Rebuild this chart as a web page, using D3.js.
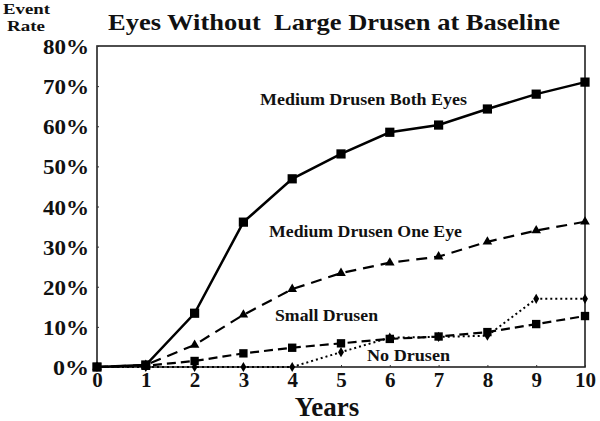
<!DOCTYPE html>
<html><head><meta charset="utf-8">
<script src="https://cdn.jsdelivr.net/npm/d3@7"></script>
<style>body{margin:0;background:#fff}svg{display:block}</style>
</head><body><svg id="c" width="600" height="421"></svg>
<script>
const years = [0,1,2,3,4,5,6,7,8,9,10];
const yTicks = [0,10,20,30,40,50,60,70,80];
const bothEyes = [0,0.5,13.4,36.1,46.9,53.1,58.5,60.3,64.3,68.0,71.0];
const oneEye   = [0,0.5,5.5,13.0,19.4,23.4,26.0,27.5,31.2,34.0,36.2];
const small    = [0,0.3,1.5,3.4,4.8,5.9,7.0,7.6,8.7,10.7,12.7];
const none     = [0,0,0,0,0,3.7,7.3,7.5,7.8,17.0,17.0];
const seriesNames = ["Medium Drusen Both Eyes","Medium Drusen One Eye","Small Drusen","No Drusen"];

const FONT = "'Liberation Serif', 'DejaVu Serif', serif";
const svg = d3.select("#c");
const L=97, R=585, T=46, B=367;
const x = d3.scaleLinear().domain([0,10]).range([L,R]);
const y = d3.scaleLinear().domain([0,80]).range([B,T]);

// frame
svg.append("rect").attr("x",L).attr("y",T).attr("width",R-L).attr("height",B-T)
  .attr("fill","none").attr("stroke","#222").attr("stroke-width",1.6);

// axes
const ya = svg.append("g").attr("transform",`translate(${L},0)`)
  .call(d3.axisLeft(y).tickValues(yTicks).tickFormat(d=>d+"%").tickSize(-2).tickPadding(8));
ya.select(".domain").remove();
ya.selectAll("line").attr("stroke","#333");
ya.selectAll("text").style("font-size","21px").attr("dy","0.36em")
  .attr("textLength",d=>d===0?36:46).attr("lengthAdjust","spacingAndGlyphs");

const xa = svg.append("g").attr("transform",`translate(0,${B})`)
  .call(d3.axisBottom(x).tickValues(years).tickFormat(d3.format("d")).tickSize(-2).tickPadding(5));
xa.select(".domain").remove();
xa.selectAll("line").attr("stroke","#333");
xa.selectAll("text").style("font-size","21px");

const line = d3.line().x((d,i)=>x(years[i])).y(d=>y(d));

function drawSeries(vals, dash, width, sym, size){
  svg.append("path").datum(vals).attr("d",line).attr("fill","none")
    .attr("stroke","#000").attr("stroke-width",width).attr("stroke-dasharray",dash);
  svg.append("g").selectAll("path").data(vals).join("path")
    .attr("transform",(d,i)=>`translate(${x(years[i])},${y(d)})`)
    .attr("d",d3.symbol().type(sym).size(size)).attr("fill","#000");
}
drawSeries(none, "2,3", 2, d3.symbolDiamond, 30);
drawSeries(small, "9,5", 2.2, d3.symbolSquare, 70);
drawSeries(oneEye, "11,7", 2.2, d3.symbolTriangle, 40);
drawSeries(bothEyes, null, 2.5, d3.symbolSquare, 85);

// series labels
const lab = [[260,105,207,seriesNames[0]],[269,237,193,seriesNames[1]],[275,321,103,seriesNames[2]],[367,361,83,seriesNames[3]]];
lab.forEach(l=>svg.append("text").attr("x",l[0]).attr("y",l[1]).style("font-size","16px")
  .attr("textLength",l[2]).attr("lengthAdjust","spacingAndGlyphs").text(l[3]));

// title & axis titles
svg.append("text").attr("x",108).attr("y",30).style("font-size","23px").attr("xml:space","preserve")
  .attr("textLength",452).attr("lengthAdjust","spacingAndGlyphs")
  .text("Eyes Without  Large Drusen at Baseline");
svg.append("text").attr("x",3).attr("y",14).style("font-size","15px")
  .attr("textLength",47).attr("lengthAdjust","spacingAndGlyphs").text("Event");
svg.append("text").attr("x",7).attr("y",31).style("font-size","15px")
  .attr("textLength",38).attr("lengthAdjust","spacingAndGlyphs").text("Rate");
svg.append("text").attr("x",327).attr("y",416).attr("text-anchor","middle").style("font-size","27px").text("Years");

svg.selectAll("text").style("font-family",FONT).style("font-weight","bold").attr("fill","#111");
</script></body></html>
